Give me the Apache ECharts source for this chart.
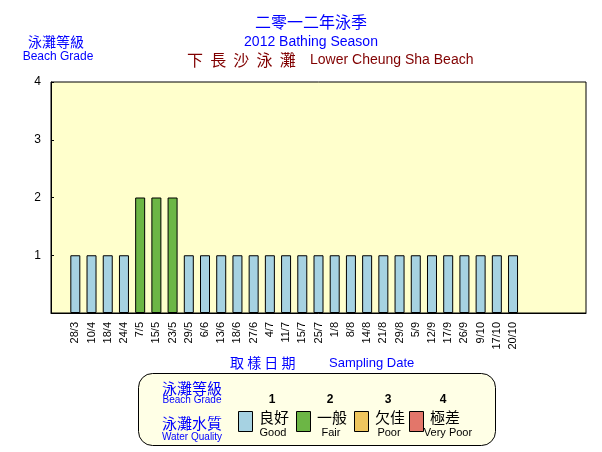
<!DOCTYPE html>
<html>
<head>
<meta charset="utf-8">
<script src="https://cdn.jsdelivr.net/npm/echarts@6/dist/echarts.min.js"></script>
<style>
  body { margin: 0; background: #fff; }
  #chart { width: 602px; height: 452px; }
</style>
</head>
<body>
<div id="chart"></div>
<script>
// 採樣日期 / sampling dates
var dates = ['28/3', '10/4', '18/4', '24/4', '7/5', '15/5', '23/5', '29/5', '6/6', '13/6',
  '18/6', '27/6', '4/7', '11/7', '15/7', '25/7', '1/8', '8/8', '14/8', '21/8',
  '29/8', '5/9', '12/9', '17/9', '26/9', '9/10', '17/10', '20/10'];
// 泳灘等級 / beach grade for each date
var grades = [1, 1, 1, 1, 2, 2, 2, 1, 1, 1,
  1, 1, 1, 1, 1, 1, 1, 1, 1, 1,
  1, 1, 1, 1, 1, 1, 1, 1];
// empty slots on the axis before and after the season
var padBefore = 1;
var padAfter = 4;
// legend
var gradeNums = ['1', '2', '3', '4'];
var gradeZh = ['良好', '一般', '欠佳', '極差'];
var gradeEn = ['Good', 'Fair', 'Poor', 'Very Poor'];
var gradeColors = ['#A6D2E2', '#6CB645', '#EFC65E', '#E3766A'];

var zh = '"Noto Sans CJK TC", sans-serif';
var en = '"Liberation Sans", Arial, sans-serif';

var myChart = echarts.init(document.getElementById('chart'));

// 類別軸：前後補空位
var categories = [];
var barData = [];
for (var i = 0; i < padBefore; i++) { categories.push(''); barData.push(null); }
dates.forEach(function (d, k) {
  categories.push(d);
  barData.push({ value: grades[k], itemStyle: { color: gradeColors[grades[k] - 1] } });
});
for (var j = 0; j < padAfter; j++) { categories.push(''); barData.push(null); }

// 圖例（自繪）
var legendEls = [
  { type: 'rect', shape: { x: 138.5, y: 373.5, width: 357, height: 72, r: 14 },
    style: { fill: '#FFFFE6', stroke: '#000', lineWidth: 1 } },
  { type: 'text', x: 192, y: 388, style: { text: '泳灘等級', font: '15px ' + zh, fill: '#0000FF', textAlign: 'center', textVerticalAlign: 'middle' } },
  { type: 'text', x: 192, y: 400, style: { text: 'Beach Grade', font: '10px ' + en, fill: '#0000FF', textAlign: 'center', textVerticalAlign: 'middle' } },
  { type: 'text', x: 192, y: 423, style: { text: '泳灘水質', font: '15px ' + zh, fill: '#0000FF', textAlign: 'center', textVerticalAlign: 'middle' } },
  { type: 'text', x: 192, y: 437, style: { text: 'Water Quality', font: '10px ' + en, fill: '#0000FF', textAlign: 'center', textVerticalAlign: 'middle' } }
];
var swX = [238, 296, 354, 409];
gradeNums.forEach(function (n, k) {
  var sx = swX[k];
  legendEls.push({ type: 'rect', shape: { x: sx + 0.5, y: 411.5, width: 14, height: 20 },
    style: { fill: gradeColors[k], stroke: '#000', lineWidth: 1 } });
  legendEls.push({ type: 'text', x: sx + 34, y: 400, style: { text: n, font: 'bold 12px ' + en, fill: '#000', textAlign: 'center', textVerticalAlign: 'middle' } });
  legendEls.push({ type: 'text', x: sx + 21, y: 417, style: { text: gradeZh[k], font: '15px ' + zh, fill: '#000', textAlign: 'left', textVerticalAlign: 'middle' } });
  legendEls.push({ type: 'text', x: sx + 35 + (k === 3 ? 4 : 0), y: 433, style: { text: gradeEn[k], font: '11px ' + en, fill: '#000', textAlign: 'center', textVerticalAlign: 'middle' } });
});

var option = {
  animation: false,
  backgroundColor: '#fff',
  grid: {
    left: 51, top: 82, width: 535, height: 231,
    show: true, backgroundColor: '#FFFFCC', borderColor: '#000', borderWidth: 1
  },
  xAxis: {
    type: 'category',
    data: categories,
    boundaryGap: true,
    axisLine: { lineStyle: { color: '#000', width: 1 } },
    axisTick: { inside: true, length: 3, lineStyle: { color: '#000' } },
    axisLabel: { rotate: 90, interval: 0, margin: 9, color: '#000', fontSize: 11, fontFamily: en }
  },
  yAxis: {
    type: 'value',
    min: 0, max: 4, interval: 1,
    axisLine: { show: true, lineStyle: { color: '#000', width: 1 } },
    axisTick: { show: true, inside: true, length: 3, lineStyle: { color: '#000' } },
    splitLine: { show: false },
    axisLabel: {
      color: '#000', fontSize: 12, fontFamily: en, margin: 10,
      formatter: function (v) { return v === 0 ? '' : String(v); }
    }
  },
  series: [{
    type: 'bar',
    data: barData,
    barWidth: 10,
    itemStyle: { borderColor: '#000', borderWidth: 1 }
  }],
  graphic: [
    // 標題
    { type: 'text', x: 311, y: 22, style: { text: '二零一二年泳季', font: '16px ' + zh, fill: '#0000FF', textAlign: 'center', textVerticalAlign: 'middle' } },
    { type: 'text', x: 311, y: 42, style: { text: '2012 Bathing Season', font: '14px ' + en, fill: '#0000FF', textAlign: 'center', textVerticalAlign: 'middle' } },
    { type: 'text', x: 187, y: 60, style: { text: '下  長  沙  泳  灘', font: '16px ' + zh, fill: '#800000', textAlign: 'left', textVerticalAlign: 'middle' } },
    { type: 'text', x: 310, y: 60, style: { text: 'Lower Cheung Sha Beach', font: '14px ' + en, fill: '#800000', textAlign: 'left', textVerticalAlign: 'middle' } },
    // y 軸名稱
    { type: 'text', x: 56, y: 42, style: { text: '泳灘等級', font: '14px ' + zh, fill: '#0000FF', textAlign: 'center', textVerticalAlign: 'middle' } },
    { type: 'text', x: 58, y: 57, style: { text: 'Beach Grade', font: '12px ' + en, fill: '#0000FF', textAlign: 'center', textVerticalAlign: 'middle' } },
    // x 軸名稱
    { type: 'text', x: 230, y: 363, style: { text: '取 樣 日 期', font: '14px ' + zh, fill: '#0000FF', textAlign: 'left', textVerticalAlign: 'middle' } },
    { type: 'text', x: 329, y: 363, style: { text: 'Sampling Date', font: '13px ' + en, fill: '#0000FF', textAlign: 'left', textVerticalAlign: 'middle' } }
  ].concat(legendEls)
};
myChart.setOption(option);
</script>
</body>
</html>
